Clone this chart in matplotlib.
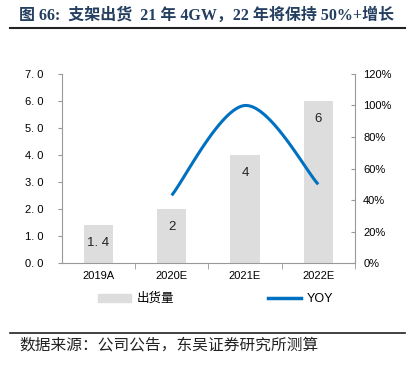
import matplotlib
matplotlib.use('Agg')
import matplotlib.pyplot as plt
from matplotlib.lines import Line2D
from matplotlib.patches import Patch
import numpy as np

plt.rcParams['font.family'] = ['Liberation Sans', 'Noto Sans CJK SC']

# data
years = ['2019A', '2020E', '2021E', '2022E']
shipments = [1.4, 2, 4, 6]
bar_labels = ['1. 4', '2', '4', '6']
yoy_idx = [1, 2, 3]
yoy = [0.43, 1.00, 0.50]

title = '图 66:  支架出货  21 年 4GW，22 年将保持 50%+增长'
source = '数据来源：公司公告，东吴证券研究所测算'


def smooth(xs, ys, n=40):
    # catmull-rom style smoothing, like excel's smoothed line
    px = [xs[0]] + list(xs) + [xs[-1]]
    py = [ys[0]] + list(ys) + [ys[-1]]
    ox, oy = [], []
    t = np.linspace(0, 1, n)
    for i in range(1, len(px) - 2):
        p0, p1, p2, p3 = np.array([px[i-1], py[i-1]]), np.array([px[i], py[i]]), np.array([px[i+1], py[i+1]]), np.array([px[i+2], py[i+2]])
        c1 = p1 + (p2 - p0) / 6
        c2 = p2 - (p3 - p1) / 6
        b = ((1-t)**3)[:, None]*p1 + (3*(1-t)**2*t)[:, None]*c1 + (3*(1-t)*t**2)[:, None]*c2 + (t**3)[:, None]*p2
        ox += list(b[:, 0]); oy += list(b[:, 1])
    return ox, oy


fig = plt.figure(figsize=(4.15, 3.68), dpi=100)
ax = fig.add_axes([0.149, 0.285, 0.706, 0.514])
x = np.arange(len(years))
ax.bar(x, shipments, width=0.4, color='#DDDDDD', zorder=1)
for xi, v, lab in zip(x, shipments, bar_labels):
    ax.text(xi, v - 0.65, lab, ha='center', va='center', fontsize=9.5, color='#222222')

ax.set_xlim(-0.5, 3.5)
ax.set_ylim(0, 7)
ax.set_yticks(np.arange(0, 7.1, 1))
ax.set_yticklabels([('%.1f' % v).replace('.', '. ') for v in np.arange(0, 7.1, 1)], fontsize=8)
ax.set_xticks(x)
ax.set_xticklabels(years, fontsize=8)
ax.set_xticks(np.arange(0.5, 4, 1), minor=True)
ax.tick_params(axis='x', which='major', length=0, pad=6)
ax.tick_params(axis='x', which='minor', length=4, color='#999999')
ax.tick_params(axis='y', length=3, color='#999999', pad=10)
for s in ['top', 'right']:
    ax.spines[s].set_visible(False)
ax.spines['left'].set_color('#999999')
ax.spines['bottom'].set_color('#999999')

ax2 = ax.twinx()
sx, sy = smooth(yoy_idx, yoy)
ax2.plot(sx, sy, color='#0070C0', lw=2.2, solid_capstyle='butt', zorder=3)
ax2.set_ylim(0, 1.2)
ax2.set_yticks(np.arange(0, 1.21, 0.2))
ax2.set_yticklabels(['%d%%' % round(v * 100) for v in np.arange(0, 1.21, 0.2)], fontsize=8)
ax2.tick_params(axis='y', direction='in', length=3, color='#999999', pad=6)
for s in ['top', 'left', 'bottom']:
    ax2.spines[s].set_visible(False)
ax2.spines['right'].set_color('#999999')

handles = [Patch(color='#DDDDDD'), Line2D([0], [0], color='#0070C0', lw=2.5)]
fig.legend(handles, ['出货量', 'YOY'], loc='center', bbox_to_anchor=(0.52, 0.188), ncol=2,
           frameon=False, fontsize=9, handlelength=2.6, handleheight=0.6, columnspacing=7.5, handletextpad=0.5)

fig.text(0.045, 0.959, title, fontsize=11.5, fontweight='bold', color='#243F60',
         family=['Liberation Serif', 'Noto Sans CJK SC'], va='center')
fig.add_artist(Line2D([0.025, 0.975], [0.924, 0.924], color='#222222', lw=1.5))
fig.add_artist(Line2D([0.025, 0.975], [0.095, 0.095], color='#222222', lw=1.2))
fig.text(0.048, 0.062, source, fontsize=11.3, color='#222222', family=['Noto Sans CJK SC'], va='center')

fig.savefig('out.png', dpi=100)
